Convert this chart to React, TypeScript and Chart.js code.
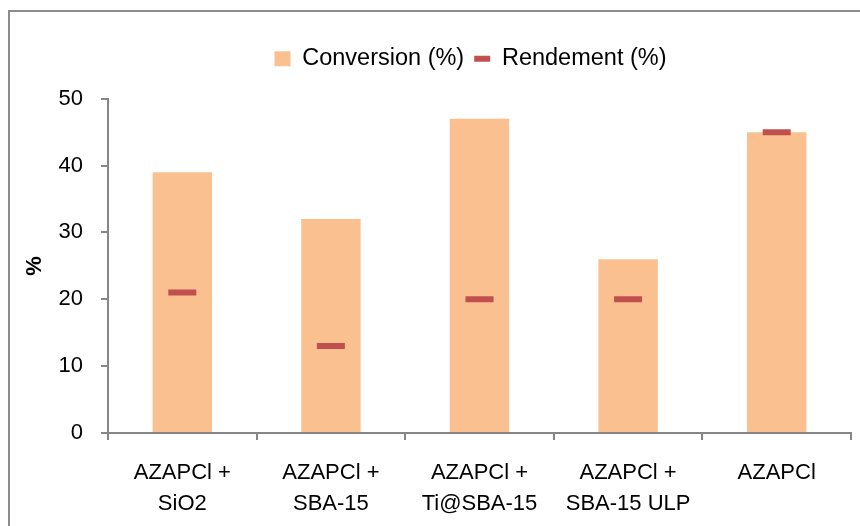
import React, { useEffect, useRef } from "react";
import { Chart, registerables } from "chart.js";

Chart.register(...registerables);

const categories: string[][] = [
  ["AZAPCl +", "SiO2"],
  ["AZAPCl +", "SBA-15"],
  ["AZAPCl +", "Ti@SBA-15"],
  ["AZAPCl +", "SBA-15 ULP"],
  ["AZAPCl"],
];
const conversion: number[] = [39, 32, 47, 26, 45];
const rendement: number[] = [21, 13, 20, 20, 45];
const yTicks = { min: 0, max: 50, step: 10 };

const FONT = "'Liberation Sans', Arial, sans-serif";
const BAR_COLOR = "#FAC090";
const LINE_COLOR = "#C0504D";
const AXIS_COLOR = "#868686";
const LEGEND_SHIFT = 45;

const legendShift = {
  id: "legendShift",
  afterLayout(chart: any) {
    const lg = chart.legend;
    if (lg) {
      lg.left += LEGEND_SHIFT;
      lg.right += LEGEND_SHIFT;
      if (lg.legendHitBoxes) {
        lg.legendHitBoxes.forEach((h: any) => (h.left += LEGEND_SHIFT));
      }
    }
  },
};

export default function App() {
  const ref = useRef<HTMLCanvasElement | null>(null);

  useEffect(() => {
    if (!ref.current) return;
    const chart = new Chart(ref.current, {
      type: "bar",
      data: {
        labels: categories,
        datasets: [
          {
            type: "bar",
            label: "Conversion (%)",
            data: conversion,
            backgroundColor: BAR_COLOR,
            borderWidth: 0,
            barPercentage: 0.4,
            categoryPercentage: 1,
            order: 1,
          },
          {
            type: "line",
            label: "Rendement (%)",
            data: rendement,
            showLine: false,
            pointStyle: "line",
            pointRadius: 14,
            pointHoverRadius: 14,
            pointBorderColor: LINE_COLOR,
            pointBackgroundColor: LINE_COLOR,
            pointBorderWidth: 6,
            pointHoverBorderWidth: 6,
            order: 0,
          } as any,
        ],
      },
      plugins: [legendShift],
      options: {
        responsive: false,
        animation: false,
        events: [],
        layout: { autoPadding: false, padding: { top: 37, left: 0, right: 9, bottom: 0 } },
        plugins: {
          tooltip: { enabled: false },
          legend: {
            display: true,
            position: "top",
            weight: 3000,
            labels: {
              usePointStyle: true,
              boxHeight: 15,
              pointStyleWidth: 16,
              padding: 10,
              color: "#000",
              font: { family: FONT, size: 23.5 },
              generateLabels: () => [
                {
                  text: "Conversion (%)",
                  fillStyle: BAR_COLOR,
                  strokeStyle: BAR_COLOR,
                  lineWidth: 0,
                  pointStyle: "rect",
                  hidden: false,
                  datasetIndex: 0,
                  fontColor: "#000",
                } as any,
                {
                  text: "Rendement (%)",
                  fillStyle: LINE_COLOR,
                  strokeStyle: LINE_COLOR,
                  lineWidth: 6,
                  pointStyle: "line",
                  hidden: false,
                  datasetIndex: 1,
                  fontColor: "#000",
                } as any,
              ],
            },
          } as any,
          title: {
            display: true,
            text: "",
            weight: 2000,
            position: "top",
            font: { size: 1 },
            padding: { top: 0, bottom: 17 },
          } as any,
        },
        scales: {
          x: {
            offset: true,
            grid: {
              offset: true,
              drawOnChartArea: false,
              drawTicks: true,
              tickLength: 7,
              color: AXIS_COLOR,
              lineWidth: 2,
            },
            border: { display: true, color: AXIS_COLOR, width: 2 },
            ticks: {
              color: "#000",
              font: { family: FONT, size: 22, lineHeight: 1.41 },
              padding: 17,
              maxRotation: 0,
              autoSkip: false,
            },
            afterFit: (s: any) => {
              s.height = 93;
              s.paddingLeft = 0;
              s.paddingRight = 0;
            },
          },
          y: {
            min: yTicks.min,
            max: yTicks.max,
            grid: {
              drawOnChartArea: false,
              drawTicks: true,
              tickLength: 7,
              color: AXIS_COLOR,
              lineWidth: 2,
            },
            border: { display: true, color: AXIS_COLOR, width: 2 },
            ticks: {
              stepSize: yTicks.step,
              color: "#000",
              font: { family: FONT, size: 22 },
              padding: 18,
            },
            title: {
              display: true,
              text: "%",
              color: "#000",
              font: { family: FONT, size: 22, weight: "bold" },
              padding: { top: 22, bottom: 0 },
            },
            afterFit: (s: any) => {
              s.width = 108;
            },
          },
        },
      },
    });
    return () => chart.destroy();
  }, []);

  return (
    <div
      style={{
        position: "absolute",
        left: 0,
        top: 0,
        width: 860,
        height: 526,
        overflow: "hidden",
        background: "#fff",
      }}
    >
      <div
        style={{
          position: "absolute",
          left: 8,
          top: 10,
          width: 900,
          height: 600,
          border: "2px solid #8c8c8c",
          boxSizing: "border-box",
        }}
      />
      <canvas
        ref={ref}
        width={860}
        height={526}
        style={{ position: "absolute", left: 0, top: 0, width: 860, height: 526 }}
      />
    </div>
  );
}
